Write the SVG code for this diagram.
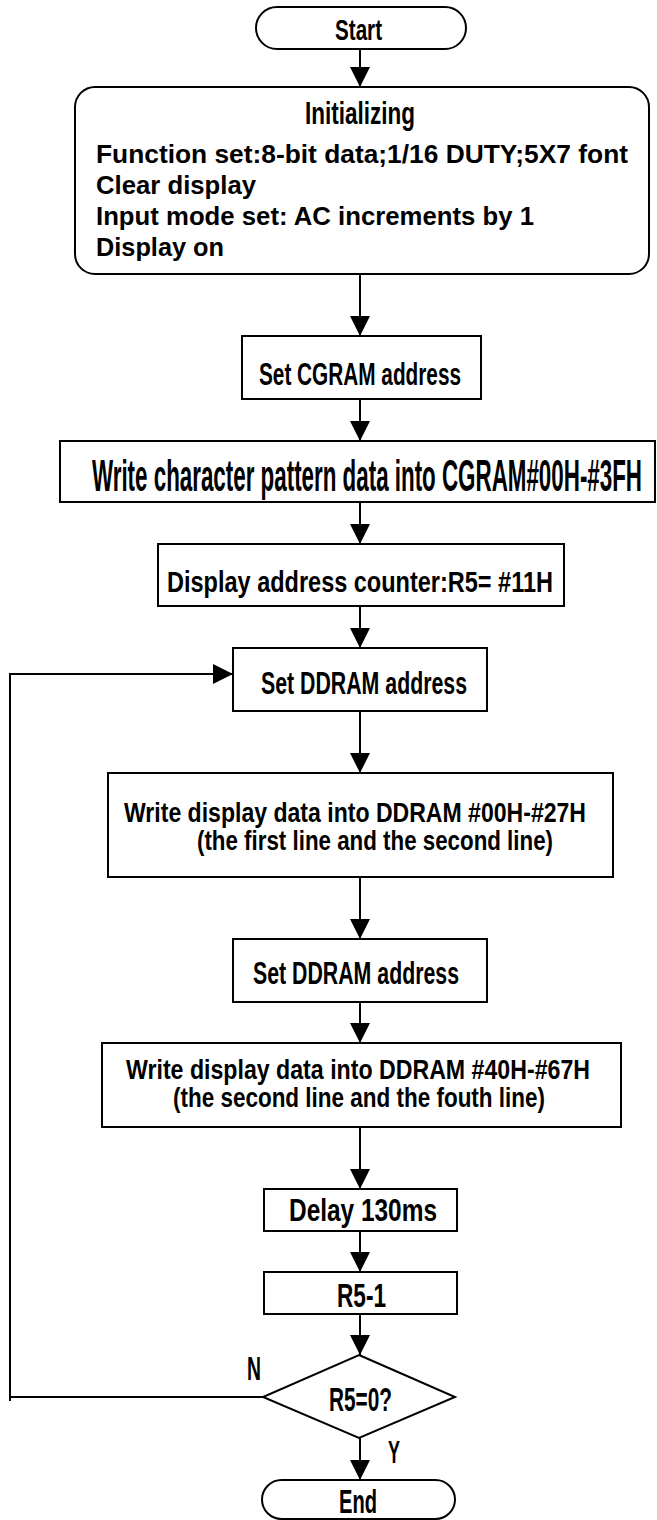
<svg xmlns="http://www.w3.org/2000/svg" width="657" height="1520" viewBox="0 0 657 1520">
<style>
.box{fill:#fff;stroke:#000;stroke-width:2}
.t{font-family:"Liberation Sans",Arial,sans-serif;font-weight:bold;fill:#000}
.c{stroke:#000;stroke-width:2;fill:none}
</style>
<defs>
<marker id="ah" viewBox="0 0 20 20" refX="20" refY="10" markerWidth="20" markerHeight="20" markerUnits="userSpaceOnUse" orient="auto">
<path d="M0,0 L20,10 L0,20 z" fill="#000"/>
</marker>
</defs>
<rect width="657" height="1520" fill="#fff"/>
<g id="connectors">
<line class="c" x1="360" y1="49" x2="360" y2="87" marker-end="url(#ah)"/>
<line class="c" x1="360" y1="274" x2="360" y2="336" marker-end="url(#ah)"/>
<line class="c" x1="360" y1="399" x2="360" y2="441" marker-end="url(#ah)"/>
<line class="c" x1="360" y1="502" x2="360" y2="544" marker-end="url(#ah)"/>
<line class="c" x1="360" y1="606" x2="360" y2="648" marker-end="url(#ah)"/>
<line class="c" x1="360" y1="711" x2="360" y2="773" marker-end="url(#ah)"/>
<line class="c" x1="360" y1="877" x2="360" y2="939" marker-end="url(#ah)"/>
<line class="c" x1="360" y1="1002" x2="360" y2="1043" marker-end="url(#ah)"/>
<line class="c" x1="360" y1="1127" x2="360" y2="1189" marker-end="url(#ah)"/>
<line class="c" x1="360" y1="1231" x2="360" y2="1272" marker-end="url(#ah)"/>
<line class="c" x1="360" y1="1314" x2="360" y2="1355" marker-end="url(#ah)"/>
<line class="c" x1="360" y1="1438" x2="360" y2="1480" marker-end="url(#ah)"/>
<polyline class="c" points="263,1397 10,1397 10,674 233,674" marker-end="url(#ah)"/>
<polyline class="c" points="10,1397 10,1401"/>
</g>
<g id="start">
<rect class="box" x="256" y="7" width="210" height="42" rx="21"/>
<text class="t" x="335" y="40" font-size="29" textLength="47" lengthAdjust="spacingAndGlyphs">Start</text>
</g>
<g id="init">
<rect class="box" x="75" y="87" width="574" height="187" rx="20"/>
<text class="t" x="305" y="124" font-size="32" textLength="110" lengthAdjust="spacingAndGlyphs">Initializing</text>
<text class="t" x="96" y="163" font-size="26" textLength="532" lengthAdjust="spacingAndGlyphs">Function set:8-bit data;1/16 DUTY;5X7 font</text>
<text class="t" x="96" y="194" font-size="26" textLength="160" lengthAdjust="spacingAndGlyphs">Clear display</text>
<text class="t" x="96" y="225" font-size="26" textLength="438" lengthAdjust="spacingAndGlyphs">Input mode set: AC increments by 1</text>
<text class="t" x="96" y="256" font-size="26" textLength="128" lengthAdjust="spacingAndGlyphs">Display on</text>
</g>
<g id="setcgram">
<rect class="box" x="242" y="336" width="239" height="63"/>
<text class="t" x="259" y="385" font-size="32" textLength="202" lengthAdjust="spacingAndGlyphs">Set CGRAM address</text>
</g>
<g id="writecg">
<rect class="box" x="60" y="441" width="595" height="61"/>
<text class="t" x="92" y="491" font-size="45" textLength="550" lengthAdjust="spacingAndGlyphs">Write character pattern data into CGRAM#00H-#3FH</text>
</g>
<g id="dispaddr">
<rect class="box" x="158" y="544" width="406" height="62"/>
<text class="t" x="167" y="592" font-size="30" textLength="386" lengthAdjust="spacingAndGlyphs">Display address counter:R5= #11H</text>
</g>
<g id="setddram1">
<rect class="box" x="233" y="648" width="254" height="63"/>
<text class="t" x="261" y="694" font-size="31" textLength="206" lengthAdjust="spacingAndGlyphs">Set DDRAM address</text>
</g>
<g id="writedd1">
<rect class="box" x="108" y="773" width="505" height="104"/>
<text class="t" x="124" y="822" font-size="28" textLength="462" lengthAdjust="spacingAndGlyphs">Write display data into DDRAM #00H-#27H</text>
<text class="t" x="197" y="850" font-size="28" textLength="356" lengthAdjust="spacingAndGlyphs">(the first line and the second line)</text>
</g>
<g id="setddram2">
<rect class="box" x="233" y="939" width="254" height="63"/>
<text class="t" x="253" y="984" font-size="31" textLength="206" lengthAdjust="spacingAndGlyphs">Set DDRAM address</text>
</g>
<g id="writedd2">
<rect class="box" x="102" y="1043" width="519" height="84"/>
<text class="t" x="126" y="1079" font-size="28" textLength="464" lengthAdjust="spacingAndGlyphs">Write display data into DDRAM #40H-#67H</text>
<text class="t" x="173" y="1107" font-size="28" textLength="372" lengthAdjust="spacingAndGlyphs">(the second line and the fouth line)</text>
</g>
<g id="delay">
<rect class="box" x="264" y="1189" width="193" height="42"/>
<text class="t" x="289" y="1221" font-size="31" textLength="148" lengthAdjust="spacingAndGlyphs">Delay 130ms</text>
</g>
<g id="dec">
<rect class="box" x="264" y="1272" width="193" height="42"/>
<text class="t" x="337" y="1307" font-size="33" textLength="49" lengthAdjust="spacingAndGlyphs">R5-1</text>
</g>
<g id="decision">
<polygon class="box" points="359,1355 455,1397 359,1438 263,1397"/>
<text class="t" x="329" y="1411" font-size="33" textLength="63" lengthAdjust="spacingAndGlyphs">R5=0?</text>
<text class="t" x="247" y="1380" font-size="33" textLength="14" lengthAdjust="spacingAndGlyphs">N</text>
<text class="t" x="388" y="1463" font-size="32" textLength="12" lengthAdjust="spacingAndGlyphs">Y</text>
</g>
<g id="end">
<rect class="box" x="262" y="1480" width="193" height="39" rx="19.5"/>
<text class="t" x="339" y="1513" font-size="34" textLength="38" lengthAdjust="spacingAndGlyphs">End</text>
</g>
</svg>
